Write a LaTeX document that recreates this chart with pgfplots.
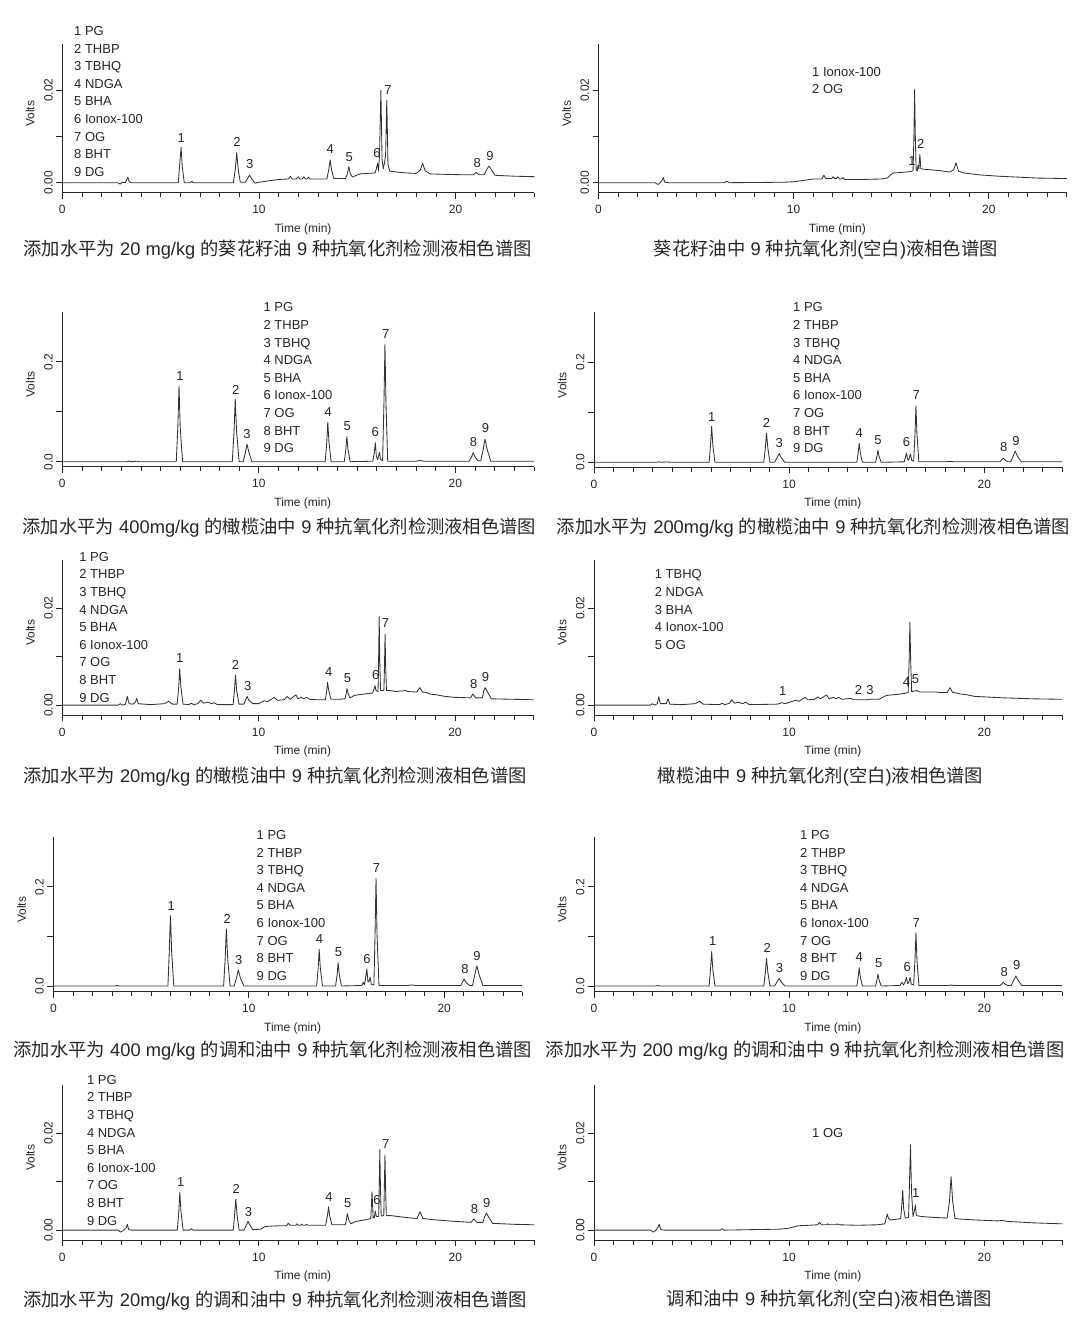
\documentclass[border=0pt]{standalone}
\usepackage{pgfplots}
\pgfplotsset{compat=1.18}
\usepackage{fontspec}
\setmainfont{Liberation Sans}
\newfontfamily\cjk{Noto Sans CJK SC}
\newcommand\lgf{\fontsize{13}{17.6}\selectfont}
\newcommand\tkf{\fontsize{12}{13}\selectfont}
\newcommand\lbf{\fontsize{12}{13}\selectfont}
\newcommand\cpf{\fontsize{18.3}{20}\selectfont}
\pgfplotsset{
  chrom/.style={
    scale only axis, xmin=0, xmax=24, clip=false,
    axis lines*=left,
    scaled y ticks=false, scaled x ticks=false,
    axis line style={line width=0.8pt, black!85},
    every tick/.style={line width=0.7pt, black!85},
    xtick={0,10,20}, xticklabels={0,10,20},
    minor xtick={1,2,3,4,5,6,7,8,9,11,12,13,14,15,16,17,18,19,21,22,23,24},
    tick align=outside,
    major tick length=6pt, minor tick length=4.5pt,
    xticklabel style={font=\tkf, text=black!85, yshift=-3pt},
    yticklabel style={font=\tkf, text=black!85, rotate=90, anchor=south},
    xlabel={Time (min)}, ylabel={Volts},
    xlabel style={font=\lbf, text=black!85, at={(axis description cs:0.51,0)}, anchor=center, yshift=-36.5pt},
    ylabel style={font=\lbf, text=black!85, at={(axis description cs:-0.068,0.53)}, anchor=center},
  },
  small/.style={ymin=-0.00216, ymax=0.03, ytick={0,0.01,0.02}, yticklabels={0.00,,0.02}},
  big/.style={ymin=-0.01, ymax=0.3, ytick={0,0.1,0.2}, yticklabels={0.0,,0.2}},
  curve/.style={line width=0.85pt, black!80, line join=round, mark=none},
}
\tikzset{pklab/.style={anchor=south, inner sep=0pt, font=\lgf, text=black!85}}
\newcommand\pk[3]{\node[pklab] at (axis cs:#1,#2) {#3};}
\tikzset{leg/.style={anchor=north west, align=left, inner sep=0pt, font=\lgf, text=black!85}}
\tikzset{capn/.style={anchor=center, inner sep=0pt, font=\cpf, text=black!85}}
\begin{document}
\begin{tikzpicture}
\useasboundingbox (0pt,0pt) rectangle (1080pt,-1342pt);

% ---------------- A: sunflower 20 mg/kg
\begin{axis}[chrom, small, at={(62.3pt,-192.7pt)}, anchor=south west, width=472pt, height=149pt]
\addplot[curve] table {
0 0
2.8 0
2.95 -0.0003
3.05 0.0001
3.2 0
3.27 0.0006
3.33 0.0012
3.4 0.0002
3.5 0
5.9 0
5.96 0.0035
6.04 0.0076
6.1 0.0035
6.2 0
6.5 0
6.58 0.0003
6.66 0
8.7 0
8.8 0.003
8.87 0.0065
8.94 0.003
9.05 0.0001
9.3 0.0001
9.42 0.0009
9.52 0.00165
9.62 0.0009
9.8 -0.0001
10.0 0.0001
10.5 0.0004
11.0 0.0007
11.5 0.0008
11.6 0.0014
11.68 0.0008
11.9 0.0008
12.0 0.0013
12.08 0.0008
12.2 0.0008
12.28 0.0013
12.36 0.0008
12.45 0.0008
12.52 0.0012
12.6 0.0008
13.45 0.0008
13.55 0.0028
13.62 0.0049
13.69 0.0028
13.8 0.0009
14.4 0.0009
14.5 0.002
14.57 0.0035
14.64 0.002
14.75 0.0012
14.95 0.0016
15.15 0.0019
15.5 0.002
15.9 0.0021
15.97 0.003
16.03 0.0042
16.08 0.0025
16.13 0.006
16.2 0.0199
16.26 0.005
16.32 0.003
16.38 0.0042
16.44 0.006
16.5 0.0178
16.56 0.004
16.65 0.0025
17.0 0.0023
17.5 0.0021
18.0 0.002
18.2 0.0027
18.32 0.0042
18.45 0.0026
18.7 0.0019
19.5 0.0018
20.5 0.0017
20.9 0.0017
21.05 0.0022
21.2 0.0017
21.45 0.0017
21.6 0.003
21.7 0.0036
21.82 0.0028
22.0 0.0016
23.0 0.0014
24.0 0.0013
};
\pk{6.05}{0.0086}{1}\pk{8.88}{0.0078}{2}\pk{9.53}{0.003}{3}\pk{13.63}{0.0062}{4}\pk{14.59}{0.0045}{5}
\pk{16.0}{0.0053}{6}\pk{16.56}{0.0191}{7}\pk{21.1}{0.0032}{8}\pk{21.75}{0.0047}{9}
\end{axis}

% ---------------- B: sunflower blank
\begin{axis}[chrom, small, at={(598.5pt,-192.7pt)}, anchor=south west, width=468.3pt, height=149pt]
\addplot[curve] table {
0 0
2.9 0
3.05 -0.0004
3.15 0
3.25 0.0004
3.32 0.0011
3.4 0.0001
3.6 0
6.45 0
6.57 0.0003
6.7 0
9.5 0.0001
10.0 0.0002
10.5 0.0005
11.0 0.0008
11.45 0.0008
11.55 0.0016
11.65 0.0009
11.95 0.0009
12.02 0.0013
12.1 0.0009
12.2 0.0009
12.27 0.0013
12.35 0.0008
12.45 0.0008
12.52 0.0011
12.6 0.0007
13.5 0.0007
14.5 0.0008
14.8 0.001
15.0 0.0018
15.1 0.0021
15.5 0.0022
16.0 0.0024
16.12 0.0026
16.16 0.009
16.2 0.0201
16.24 0.009
16.28 0.0028
16.33 0.0025
16.38 0.0038
16.42 0.003
16.47 0.0061
16.52 0.003
16.7 0.0029
17.5 0.0026
18.0 0.0023
18.2 0.0028
18.32 0.0043
18.45 0.0025
18.7 0.0021
19.5 0.0017
20.5 0.0014
21.5 0.0012
22.5 0.001
24.0 0.0009
};
\pk{16.06}{0.0037}{1}\pk{16.52}{0.0073}{2}
\end{axis}

% ---------------- C: olive 400
\begin{axis}[chrom, big, at={(62.3pt,-466.7pt)}, anchor=south west, width=471.6pt, height=155pt]
\addplot[curve] table {
0 0
3.3 0
3.4 0.0015
3.5 0
3.8 0.001
3.9 0
5.8 0
5.88 0.07
5.94 0.151
6.0 0.07
6.12 0
8.65 0
8.74 0.06
8.8 0.125
8.87 0.06
9.0 0
9.2 0
9.32 0.018
9.4 0.035
9.5 0.018
9.65 0
13.38 0
13.46 0.04
13.51 0.079
13.57 0.04
13.68 0
14.35 0
14.43 0.025
14.48 0.05
14.54 0.025
14.65 0
15.8 0.001
15.88 0.019
15.93 0.038
15.98 0.012
16.05 0.004
16.1 0.012
16.14 0.019
16.19 0.005
16.3 0.002
16.37 0.12
16.42 0.235
16.47 0.12
16.56 0.001
18.0 0.001
18.2 0.0025
18.4 0.001
20.7 0.001
20.83 0.01
20.91 0.018
21.0 0.01
21.15 0.002
21.3 0.002
21.42 0.025
21.51 0.045
21.62 0.025
21.8 0.001
24 0.001
};
\pk{5.99}{0.163}{1}\pk{8.83}{0.135}{2}\pk{9.4}{0.045}{3}\pk{13.53}{0.09}{4}\pk{14.5}{0.062}{5}
\pk{15.93}{0.049}{6}\pk{16.46}{0.247}{7}\pk{20.93}{0.03}{8}\pk{21.54}{0.057}{9}
\end{axis}

% ---------------- D: olive 200
\begin{axis}[chrom, big, at={(594pt,-467.3pt)}, anchor=south west, width=468.3pt, height=155pt]
\addplot[curve] table {
0 0
3.2 0
3.32 0.001
3.45 0
3.75 0.0008
3.9 0
5.9 0
5.97 0.034
6.03 0.072
6.09 0.034
6.2 0
8.7 0
8.78 0.028
8.84 0.0587
8.91 0.028
9.02 0
9.25 0
9.38 0.009
9.49 0.0173
9.6 0.009
9.78 0
13.47 0
13.54 0.019
13.59 0.038
13.65 0.019
13.75 0
14.43 0
14.5 0.012
14.55 0.024
14.61 0.012
14.72 0
15.9 0.001
15.96 0.01
16.01 0.0187
16.07 0.006
16.12 0.004
16.17 0.01
16.22 0.0167
16.28 0.004
16.38 0.002
16.45 0.056
16.5 0.113
16.55 0.056
16.65 0.001
18.05 0.001
18.24 0.002
18.45 0.001
20.8 0.001
20.9 0.005
20.97 0.0087
21.06 0.005
21.2 0.001
21.35 0.001
21.48 0.012
21.58 0.0227
21.7 0.012
21.9 0.001
24 0.001
};
\pk{6.03}{0.082}{1}\pk{8.84}{0.07}{2}\pk{9.49}{0.028}{3}\pk{13.59}{0.05}{4}\pk{14.55}{0.0347}{5}
\pk{16.01}{0.03}{6}\pk{16.52}{0.125}{7}\pk{21.0}{0.02}{8}\pk{21.62}{0.0333}{9}
\end{axis}

% ---------------- E: olive 20
\begin{axis}[chrom, small, ymin=-0.0021, at={(62.3pt,-715.3pt)}, anchor=south west, width=471.2pt, height=155.7pt]
\addplot[curve] table {
0 0
2.85 0
2.96 0.0003
3.05 0
3.22 0.0002
3.31 0.0018
3.4 0.0003
3.6 0.0002
3.73 0.0007
3.79 0.0014
3.87 0.0003
4.5 0.0001
5.2 0.0003
5.42 0.0008
5.6 0.0002
5.85 0.0002
5.93 0.0038
5.98 0.0075
6.04 0.0038
6.15 0.0002
6.45 0.0001
6.56 0.0004
6.7 0.0001
6.9 0.0003
7.05 0.001
7.2 0.0004
7.43 0.0006
7.6 0.0003
7.73 0.0005
7.9 0.0001
8.7 0.0001
8.77 0.0031
8.82 0.0062
8.88 0.0031
9.0 0.0002
9.25 0.0002
9.33 0.001
9.41 0.0018
9.5 0.001
9.7 0.0003
10.0 0.0003
10.29 0.0009
10.45 0.0007
10.8 0.0016
10.95 0.001
11.3 0.0011
11.46 0.0018
11.6 0.0012
11.9 0.0021
12.0 0.0013
12.17 0.0016
12.3 0.0013
12.43 0.0016
12.6 0.0012
13.0 0.0011
13.4 0.0011
13.47 0.003
13.51 0.0047
13.57 0.003
13.68 0.0012
14.09 0.0012
14.4 0.0013
14.46 0.0024
14.5 0.0034
14.56 0.0024
14.65 0.0015
14.88 0.002
15.2 0.0022
15.8 0.0025
15.88 0.0033
15.93 0.004
15.98 0.003
16.08 0.0028
16.11 0.009
16.14 0.0183
16.17 0.009
16.21 0.003
16.38 0.003
16.41 0.008
16.44 0.0146
16.47 0.008
16.51 0.003
16.7 0.003
17.0 0.0028
17.48 0.003
17.6 0.0028
18.05 0.0027
18.21 0.0036
18.35 0.0027
18.56 0.0026
18.7 0.0023
19.09 0.0021
19.5 0.0018
20.0 0.0016
20.8 0.0015
20.91 0.0023
21.05 0.0015
21.4 0.0015
21.47 0.003
21.54 0.0036
21.65 0.0028
21.85 0.0013
23.0 0.0012
24 0.0011
};
\pk{5.98}{0.0087}{1}\pk{8.82}{0.0073}{2}\pk{9.45}{0.003}{3}\pk{13.57}{0.0059}{4}\pk{14.53}{0.0045}{5}
\pk{15.97}{0.0052}{6}\pk{16.46}{0.016}{7}\pk{20.95}{0.0034}{8}\pk{21.56}{0.0049}{9}
\end{axis}

% ---------------- F: olive blank
\begin{axis}[chrom, small, ymin=-0.0021, at={(594pt,-715.3pt)}, anchor=south west, width=468.3pt, height=155.7pt]
\addplot[curve] table {
0 0
2.9 0
2.99 0.0003
3.1 0
3.25 0.0003
3.32 0.0017
3.4 0.0003
3.7 0.0003
3.8 0.0013
3.88 0.0002
4.5 0.0001
5.2 0.0003
5.41 0.0008
5.6 0.0002
6.45 0.0001
6.56 0.0004
6.7 0.0001
6.95 0.0004
7.05 0.0011
7.2 0.0004
7.43 0.0006
7.6 0.0003
7.79 0.0006
7.95 0.0001
9.4 0.0002
9.63 0.0005
9.8 0.0003
10.33 0.001
10.5 0.0008
10.83 0.0016
10.95 0.0011
11.3 0.0012
11.48 0.0017
11.6 0.0013
11.92 0.0021
12.05 0.0013
12.27 0.0016
12.4 0.0013
12.53 0.0016
12.7 0.0012
13.15 0.0014
13.3 0.0011
14.0 0.0011
14.11 0.0012
14.6 0.0012
14.8 0.0016
15.0 0.002
15.5 0.0022
15.9 0.0024
16.1 0.0026
16.15 0.009
16.19 0.0171
16.23 0.009
16.28 0.0028
16.54 0.003
16.7 0.0027
17.54 0.0027
17.7 0.0026
18.1 0.0026
18.24 0.0036
18.38 0.0026
18.59 0.0025
18.75 0.0023
19.03 0.0022
19.5 0.0018
21 0.0015
22.5 0.0013
24 0.0012
};
\pk{9.67}{0.002}{1}\pk{13.55}{0.0021}{2}\pk{14.15}{0.0021}{3}\pk{16.01}{0.0038}{4}\pk{16.48}{0.0043}{5}
\end{axis}

% ---------------- G: blend 400
\begin{axis}[chrom, big, ymin=-0.0115, at={(53.4pt,-991.7pt)}, anchor=south west, width=469pt, height=154.7pt]
\addplot[curve] table {
0 0
3.15 0
3.26 0.001
3.4 0
5.86 0
5.93 0.07
5.99 0.1416
6.05 0.07
6.16 0
8.71 0
8.79 0.055
8.85 0.1148
8.92 0.055
9.04 0
9.25 0
9.37 0.016
9.46 0.0322
9.57 0.016
9.75 0
13.47 0
13.55 0.036
13.6 0.0738
13.66 0.036
13.77 0
14.44 0
14.52 0.023
14.57 0.047
14.63 0.023
14.74 0
15.78 0.001
15.86 0.0074
15.92 0.002
15.98 0.017
16.04 0.0342
16.1 0.008
16.15 0.009
16.21 0.0174
16.27 0.003
16.4 0.002
16.46 0.105
16.51 0.2168
16.56 0.105
16.66 0.001
18.1 0.001
18.33 0.0022
18.55 0.001
20.85 0.001
20.94 0.008
21.02 0.0141
21.12 0.007
21.3 0.001
21.45 0.001
21.56 0.022
21.67 0.0403
21.79 0.022
21.98 0.001
24 0.001
};
\pk{6.03}{0.152}{1}\pk{8.9}{0.125}{2}\pk{9.48}{0.042}{3}\pk{13.62}{0.086}{4}\pk{14.59}{0.058}{5}
\pk{16.05}{0.044}{6}\pk{16.53}{0.228}{7}\pk{21.06}{0.0255}{8}\pk{21.67}{0.051}{9}
\end{axis}

% ---------------- H: blend 200
\begin{axis}[chrom, big, ymin=-0.0115, at={(594pt,-991.7pt)}, anchor=south west, width=468.3pt, height=154.7pt]
\addplot[curve] table {
0 0
3.15 0
3.26 0.0008
3.4 0
5.9 0
5.97 0.033
6.03 0.069
6.09 0.033
6.2 0
8.7 0
8.78 0.027
8.84 0.0557
8.91 0.027
9.02 0
9.25 0
9.38 0.008
9.49 0.0154
9.6 0.008
9.78 0
13.47 0
13.54 0.018
13.59 0.0369
13.65 0.018
13.75 0
14.43 0
14.5 0.012
14.55 0.0242
14.61 0.012
14.72 0
15.68 0.001
15.78 0.0074
15.86 0.002
15.95 0.009
16.01 0.0174
16.07 0.005
16.13 0.007
16.2 0.0174
16.26 0.004
16.38 0.002
16.45 0.053
16.5 0.1074
16.55 0.053
16.65 0.001
18.1 0.001
18.3 0.0018
18.5 0.001
20.8 0.001
20.9 0.004
20.97 0.0074
21.06 0.004
21.2 0.001
21.38 0.001
21.5 0.011
21.62 0.0201
21.74 0.011
21.92 0.001
24 0.001
};
\pk{6.08}{0.0805}{1}\pk{8.88}{0.067}{2}\pk{9.51}{0.027}{3}\pk{13.59}{0.049}{4}\pk{14.59}{0.0356}{5}
\pk{16.05}{0.0289}{6}\pk{16.52}{0.118}{7}\pk{21.02}{0.0188}{8}\pk{21.67}{0.0322}{9}
\end{axis}

% ---------------- I: blend 20
\begin{axis}[chrom, small, ymin=-0.0021, at={(62.3pt,-1240.3pt)}, anchor=south west, width=471.6pt, height=155.7pt]
\addplot[curve] table {
0 0
2.85 0
2.96 -0.0004
3.1 -0.0001
3.25 0.0005
3.31 0.0012
3.38 0.0001
3.5 0
5.85 0
5.93 0.0038
5.98 0.0078
6.04 0.0038
6.15 0
6.48 0
6.56 0.0003
6.65 0
8.7 0
8.77 0.0032
8.83 0.0064
8.89 0.0032
9.0 0
9.25 0
9.36 0.001
9.45 0.0018
9.55 0.001
9.7 0.0001
10.1 0.0002
10.3 0.0007
10.5 0.0008
11.0 0.0009
11.4 0.0009
11.5 0.0014
11.6 0.001
11.88 0.001
11.94 0.0013
12.0 0.001
12.12 0.001
12.18 0.0012
12.25 0.001
12.37 0.001
12.43 0.0012
12.5 0.001
13.4 0.001
13.49 0.0029
13.55 0.0048
13.61 0.0029
13.72 0.0011
14.4 0.0011
14.46 0.0022
14.51 0.0034
14.57 0.0022
14.68 0.0013
14.93 0.0018
15.1 0.0019
15.6 0.0023
15.7 0.0024
15.76 0.0079
15.82 0.0025
15.88 0.0026
15.93 0.0039
15.98 0.0028
16.1 0.0028
16.13 0.009
16.16 0.0166
16.19 0.009
16.23 0.0029
16.36 0.003
16.39 0.009
16.42 0.0155
16.45 0.009
16.49 0.003
16.7 0.003
17.5 0.0026
18.05 0.0024
18.21 0.0038
18.35 0.0024
19.0 0.0021
20.0 0.0018
20.8 0.0016
20.95 0.0023
21.1 0.0016
21.4 0.0016
21.5 0.0028
21.58 0.0035
21.7 0.0027
21.9 0.0014
23.0 0.0012
24 0.0011
};
\pk{6.03}{0.0089}{1}\pk{8.85}{0.0075}{2}\pk{9.48}{0.0028}{3}\pk{13.57}{0.0059}{4}\pk{14.53}{0.0045}{5}
\pk{16.02}{0.0052}{6}\pk{16.46}{0.0167}{7}\pk{20.98}{0.0033}{8}\pk{21.6}{0.0047}{9}
\end{axis}

% ---------------- J: blend blank
\begin{axis}[chrom, small, ymin=-0.0021, at={(594pt,-1240.3pt)}, anchor=south west, width=468.3pt, height=155.7pt]
\addplot[curve] table {
0 0
2.9 0
3.04 -0.0004
3.15 -0.0001
3.28 0.0006
3.34 0.0012
3.42 0.0001
3.6 0
6.48 0
6.56 0.0003
6.65 0
9.5 0.0002
10.0 0.0004
10.46 0.0009
11.0 0.001
11.45 0.0011
11.56 0.0016
11.66 0.0011
11.9 0.0011
11.97 0.0013
12.05 0.0011
12.4 0.0011
12.46 0.0013
12.55 0.0011
13.5 0.001
14.5 0.0011
14.9 0.0013
14.97 0.0024
15.03 0.0033
15.1 0.0024
15.2 0.0021
15.6 0.0023
15.72 0.0024
15.78 0.0055
15.82 0.0082
15.87 0.0045
15.95 0.0025
16.12 0.0026
16.17 0.01
16.22 0.0176
16.27 0.008
16.35 0.0028
16.42 0.004
16.47 0.0052
16.52 0.003
16.8 0.0028
17.5 0.0026
18.1 0.0025
18.22 0.006
18.3 0.011
18.38 0.006
18.5 0.0024
18.7 0.0023
19.5 0.0021
20.7 0.0019
20.9 0.002
21.2 0.0018
22.5 0.0015
24 0.0013
};
\pk{16.49}{0.0066}{1}
\end{axis}

% ---------------- legends
\node[leg] at (74pt,-26.3pt) {1 PG\\2 THBP\\3 TBHQ\\4 NDGA\\5 BHA\\6 Ionox-100\\7 OG\\8 BHT\\9 DG};
\node[leg] at (812pt,-67pt) {1 Ionox-100\\2 OG};
\node[leg] at (263.4pt,-302.6pt) {1 PG\\2 THBP\\3 TBHQ\\4 NDGA\\5 BHA\\6 Ionox-100\\7 OG\\8 BHT\\9 DG};
\node[leg] at (793pt,-302.6pt) {1 PG\\2 THBP\\3 TBHQ\\4 NDGA\\5 BHA\\6 Ionox-100\\7 OG\\8 BHT\\9 DG};
\node[leg] at (79.2pt,-552pt) {1 PG\\2 THBP\\3 TBHQ\\4 NDGA\\5 BHA\\6 Ionox-100\\7 OG\\8 BHT\\9 DG};
\node[leg] at (654.7pt,-569.6pt) {1 TBHQ\\2 NDGA\\3 BHA\\4 Ionox-100\\5 OG};
\node[leg] at (256.5pt,-830.3pt) {1 PG\\2 THBP\\3 TBHQ\\4 NDGA\\5 BHA\\6 Ionox-100\\7 OG\\8 BHT\\9 DG};
\node[leg] at (800pt,-830.3pt) {1 PG\\2 THBP\\3 TBHQ\\4 NDGA\\5 BHA\\6 Ionox-100\\7 OG\\8 BHT\\9 DG};
\node[leg] at (86.8pt,-1075pt) {1 PG\\2 THBP\\3 TBHQ\\4 NDGA\\5 BHA\\6 Ionox-100\\7 OG\\8 BHT\\9 DG};
\node[leg] at (812pt,-1128.6pt) {1 OG};

% ---------------- captions
\node[capn] at (277.7pt,-250pt) {{\cjk 添加水平为} 20 mg/kg {\cjk 的葵花籽油} 9 {\cjk 种抗氧化剂检测液相色谱图}};
\node[capn] at (825.8pt,-250pt) {{\cjk 葵花籽油中} 9 {\cjk 种抗氧化剂}({\cjk 空白}){\cjk 液相色谱图}};
\node[capn] at (279.4pt,-527.3pt) {{\cjk 添加水平为} 400mg/kg {\cjk 的橄榄油中} 9 {\cjk 种抗氧化剂检测液相色谱图}};
\node[capn] at (813.5pt,-527.3pt) {{\cjk 添加水平为} 200mg/kg {\cjk 的橄榄油中} 9 {\cjk 种抗氧化剂检测液相色谱图}};
\node[capn] at (275.1pt,-776.7pt) {{\cjk 添加水平为} 20mg/kg {\cjk 的橄榄油中} 9 {\cjk 种抗氧化剂检测液相色谱图}};
\node[capn] at (820.6pt,-776.7pt) {{\cjk 橄榄油中} 9 {\cjk 种抗氧化剂}({\cjk 空白}){\cjk 液相色谱图}};
\node[capn] at (272.9pt,-1051pt) {{\cjk 添加水平为} 400 mg/kg {\cjk 的调和油中} 9 {\cjk 种抗氧化剂检测液相色谱图}};
\node[capn] at (805.2pt,-1051pt) {{\cjk 添加水平为} 200 mg/kg {\cjk 的调和油中} 9 {\cjk 种抗氧化剂检测液相色谱图}};
\node[capn] at (275pt,-1301pt) {{\cjk 添加水平为} 20mg/kg {\cjk 的调和油中} 9 {\cjk 种抗氧化剂检测液相色谱图}};
\node[capn] at (829.6pt,-1300pt) {{\cjk 调和油中} 9 {\cjk 种抗氧化剂}({\cjk 空白}){\cjk 液相色谱图}};
\end{tikzpicture}
\end{document}
